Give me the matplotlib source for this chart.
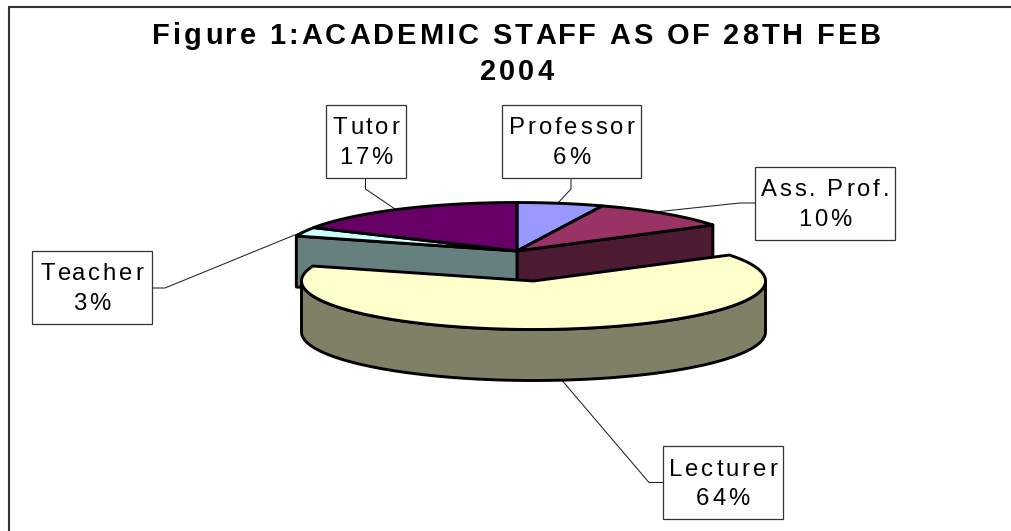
import numpy as np
import matplotlib
matplotlib.use("Agg")
import matplotlib.pyplot as plt
from matplotlib.patches import Polygon, Rectangle
from matplotlib.text import Text
from matplotlib.transforms import Bbox

categories = ["Professor", "Ass. Prof.", "Lecturer", "Teacher", "Tutor"]
values = [6, 10, 64, 3, 17]
top_colors = ["#9999FF", "#993366", "#FFFFCC", "#CCFFFF", "#660066"]
side_colors = ["#666699", "#4D1A33", "#808066", "#668080", "#330033"]
title_lines = ["Figure 1:ACADEMIC STAFF AS OF 28TH FEB", "2004"]

W, H = 1012, 531
CX, CY, RX, RY, DEPTH = 517, 251, 232, 48.5, 51
EXPLODE = {"Lecturer": (16.5, 30)}
BOXES = {"Tutor": (326, 105, 406, 178), "Professor": (502, 105, 641, 178),
         "Teacher": (32, 251, 152, 324), "Ass. Prof.": (755, 167, 895, 240),
         "Lecturer": (663, 446, 783, 519)}
LEADERS = {"Tutor": [(365.5, 178), (365.5, 189), (398, 211)],
           "Professor": [(571, 178), (571, 189), (556, 205)],
           "Teacher": [(152, 288), (165, 288), (302, 232)],
           "Ass. Prof.": [(755, 203), (740, 203), (655, 212)],
           "Lecturer": [(663, 482.5), (649, 482.5), (560, 378)]}


class TrackedText(Text):
    """Real text drawn with extra letter spacing (pixels), as in the source chart.

    y is the baseline of the first line; the Text itself is anchored on the centre
    of the block so that its own layout lies where the letters are drawn.
    """

    def __init__(self, x, y, s, tracking=0, leading=30, space=None, size=10, **kw):
        n = s.count("\n") + 1
        yc = y + leading * (n - 1) / 2 - 0.36 * size * 100 / 72
        super().__init__(x, yc, s, ha="center", va="center", size=size,
                         multialignment="center", **kw)
        self.first_baseline = y
        self.tracking = tracking
        self.leading = leading
        self.space = space

    def _layout_chars(self, renderer):
        fp = self.get_fontproperties()

        def width(s):
            return renderer.get_text_width_height_descent(s, fp, False)[0] if s else 0

        out = []
        for i, line in enumerate(self.get_text().split("\n")):
            words = line.split(" ")
            sp = self.space if self.space is not None else width("\u00a0")
            chars, x = [], 0.0
            for w_i, word in enumerate(words):
                for j, ch in enumerate(word):
                    chars.append((x + width(word[:j]) + self.tracking * j, ch))
                x += width(word) + self.tracking * (len(word) - 1)
                if w_i < len(words) - 1:
                    x += sp
            x0 = self._x - x / 2
            out.append((x0, x, self.first_baseline + i * self.leading, chars))
        return out

    def draw(self, renderer):
        for x0, _, y, chars in self._layout_chars(renderer):
            for px, ch in chars:
                t = Text(x0 + px, y, ch, ha="left", va="baseline",
                         fontproperties=self.get_fontproperties(),
                         color=self.get_color(), transform=self.axes.transData)
                t.set_figure(self.get_figure())
                t.draw(renderer)

    def get_window_extent(self, renderer=None, dpi=None):
        renderer = renderer or self.get_figure().canvas.get_renderer()
        rows = self._layout_chars(renderer)
        size_px = self.get_fontsize() * 100 / 72
        tr = self.axes.transData
        xa = min(r[0] for r in rows)
        xb = max(r[0] + r[1] for r in rows)
        p0 = tr.transform((xa, rows[-1][2] + 0.25 * size_px))
        p1 = tr.transform((xb, rows[0][2] - 0.75 * size_px))
        return Bbox.from_extents(p0[0], p0[1], p1[0], p1[1])


fig = plt.figure(figsize=(W / 100, H / 100), dpi=100, facecolor="white")
ax = fig.add_axes([0, 0, 1, 1])
ax.set_xlim(0, W)
ax.set_ylim(H, 0)
ax.axis("off")

# chart frame
ax.plot([9, 9, 1012], [H + 2, 7, 7], color="#333333", lw=1.5, zorder=1,
        solid_joinstyle="miter")

shares = np.array(values, float) / sum(values) * 2 * np.pi
starts = np.concatenate([[0], np.cumsum(shares)[:-1]])
ends = starts + shares


def pt(theta, cx, cy):
    return cx + RX * np.sin(theta), cy - RY * np.cos(theta)


def arc(a, b, cx, cy):
    t = np.linspace(a, b, 160)
    return np.column_stack(pt(t, cx, cy))


def add(poly, fc, z):
    ax.add_patch(Polygon(poly, closed=True, fc=fc, ec="black", lw=2.1, zorder=z,
                         joinstyle="round"))


# leader lines sit behind the pie
for name, pts in LEADERS.items():
    xs, ys = zip(*pts)
    ax.plot(xs, ys, color="#222222", lw=0.75, zorder=2)

# cut faces of the pie that face the viewer
lect = categories.index("Lecturer")
for i, name in enumerate(categories):
    if name == "Lecturer":
        continue
    for edge, adjacent in ((starts[i], ends[lect]), (ends[i], starts[lect])):
        if abs(edge - adjacent) < 1e-9:
            x, y = pt(edge, CX, CY)
            add([(CX, CY), (x, y), (x, y + DEPTH), (CX, CY + DEPTH)], side_colors[i], 3)

# flat tops of the unexploded slices
for i, name in enumerate(categories):
    if name == "Lecturer":
        continue
    add(np.vstack([[CX, CY], arc(starts[i], ends[i], CX, CY)]), top_colors[i], 4)

# exploded slice: rim, then top
dx, dy = EXPLODE["Lecturer"]
lx, ly = CX + dx, CY + dy
rim = arc(np.pi / 2, 3 * np.pi / 2, lx, ly)
add(np.vstack([rim, rim[::-1] + [0, DEPTH]]), side_colors[lect], 5)
add(np.vstack([[lx, ly], arc(starts[lect], ends[lect], lx, ly)]), top_colors[lect], 6)

# data labels
for i, name in enumerate(categories):
    x0, y0, x1, y1 = BOXES[name]
    ax.add_patch(Rectangle((x0, y0), x1 - x0, y1 - y0, fc="white", ec="#333333",
                           lw=0.9, zorder=7))
    ax.add_artist(TrackedText((x0 + x1) / 2, y0 + 29.5, f"{name}\n{values[i]}%",
                              tracking=2.9, leading=29.5, space=11.5,
                              family="Liberation Sans", size=17.2, color="black",
                              zorder=8))

ax.add_artist(TrackedText(516.7, 43.5, "\n".join(title_lines), tracking=3, leading=37,
                          space=13.5, family="Liberation Sans", weight="bold", size=20.9,
                          color="black", zorder=8))

fig.savefig("out.png", dpi=100)
